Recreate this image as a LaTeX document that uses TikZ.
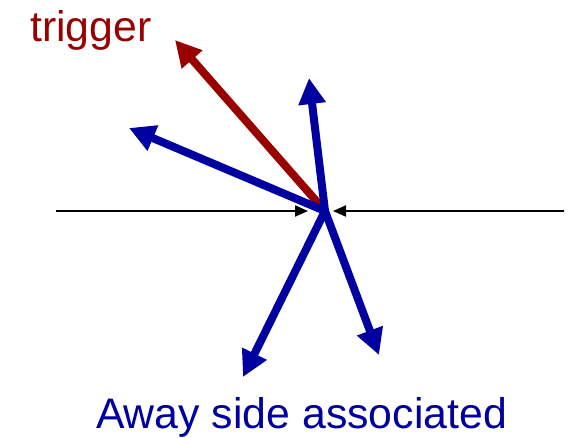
\documentclass[tikz,border=0pt]{standalone}
\usepackage{fontspec}
\setmainfont{Liberation Sans}
\usetikzlibrary{arrows.meta}
\definecolor{trigred}{RGB}{153,0,0}
\definecolor{awayblue}{RGB}{0,0,160}
\tikzset{
  bigarrow/.style={line width=8pt, -{Triangle[length=26pt,width=26pt]}},
  thinarrow/.style={line width=2pt, black, -{Triangle[length=13pt,width=11pt]}},
  lbl/.style={inner sep=0pt, font=\fontsize{42.8}{50}\selectfont}
}
\begin{document}
\begin{tikzpicture}[x=1pt,y=-1pt]
\useasboundingbox (0,0) rectangle (577,438);
\coordinate (c) at (325,211);
\coordinate (lend) at (56,211);
\coordinate (rend) at (564,211);
\coordinate (ltip) at (308,211);
\coordinate (rtip) at (333,211);
\coordinate (tr) at (175,40);
\coordinate (b1) at (129,128);
\coordinate (b2) at (309,78);
\coordinate (b3) at (243,377);
\coordinate (b4) at (379,355);
\draw[thinarrow] (lend) -- (ltip);
\draw[thinarrow] (rend) -- (rtip);
\draw[bigarrow, trigred] (c) -- (tr);
\draw[bigarrow, awayblue] (c) -- (b1);
\draw[bigarrow, awayblue] (c) -- (b2);
\draw[bigarrow, awayblue] (c) -- (b3);
\draw[bigarrow, awayblue] (c) -- (b4);
\node[lbl, text=trigred, anchor=base west] (tlabel) at (30,42) {trigger};
\node[lbl, text=awayblue, anchor=base west] (alabel) at (96,428) {Away side associated};
\end{tikzpicture}
\end{document}
